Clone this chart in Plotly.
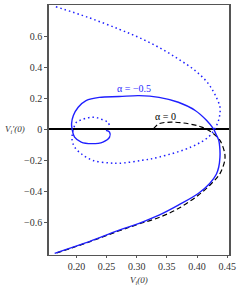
import plotly.graph_objects as go

# alpha = -0.5 (solid blue)
solid_x = [0.164, 0.215, 0.271, 0.304, 0.337, 0.369, 0.402, 0.421, 0.432, 0.436, 0.438, 0.438, 0.436, 0.432, 0.427, 0.416, 0.397, 0.369, 0.337, 0.304, 0.271, 0.238, 0.216, 0.203, 0.195, 0.192, 0.193, 0.197, 0.208, 0.225, 0.244, 0.255, 0.255, 0.249]
solid_y = [-0.802, -0.735, -0.652, -0.608, -0.555, -0.490, -0.415, -0.350, -0.29, -0.243, -0.18, -0.135, -0.071, -0.035, 0.005, 0.058, 0.123, 0.176, 0.208, 0.219, 0.213, 0.208, 0.187, 0.144, 0.090, 0.037, 0.0, -0.050, -0.082, -0.092, -0.082, -0.050, -0.017, -0.006]

# alpha = 0 (dashed black)
dash_x = [0.328, 0.337, 0.358, 0.386, 0.408, 0.424, 0.438, 0.446, 0.446, 0.438, 0.424, 0.402, 0.369, 0.337, 0.304, 0.271, 0.215, 0.164]
dash_y = [0.005, 0.037, 0.047, 0.037, 0.015, -0.017, -0.071, -0.157, -0.20, -0.286, -0.350, -0.426, -0.512, -0.570, -0.612, -0.656, -0.737, -0.804]

# dotted blue
dot_x = [0.166, 0.22, 0.271, 0.304, 0.337, 0.369, 0.397, 0.419, 0.432, 0.438, 0.437, 0.431, 0.420, 0.39, 0.337, 0.309, 0.271, 0.255, 0.227, 0.208, 0.197, 0.193, 0.193, 0.195, 0.2, 0.208, 0.219, 0.227, 0.235, 0.244, 0.252, 0.255]
dot_y = [0.795, 0.725, 0.649, 0.595, 0.531, 0.456, 0.381, 0.295, 0.208, 0.144, 0.079, 0.015, -0.045, -0.114, -0.179, -0.20, -0.219, -0.217, -0.2, -0.157, -0.114, -0.07, -0.039, 0.0, 0.047, 0.062, 0.075, 0.079, 0.075, 0.062, 0.047, 0.026]

x_ticks = [0.20, 0.25, 0.30, 0.35, 0.40, 0.45]
x_tick_text = ["0.20", "0.25", "0.30", "0.35", "0.40", "0.45"]
y_ticks = [-0.6, -0.4, -0.2, 0, 0.2, 0.4, 0.6]
y_tick_text = ["−0.6", "−0.4", "−0.2", "0", "0.2", "0.4", "0.6"]

BLUE = "#1f1fff"
SERIF = "Liberation Serif, Times New Roman, serif"

fig = go.Figure()
fig.add_trace(go.Scatter(x=dot_x, y=dot_y, mode="lines", line=dict(color=BLUE, width=1.5, dash="1.5px,3px", shape="spline"), hoverinfo="skip"))
fig.add_trace(go.Scatter(x=dash_x, y=dash_y, mode="lines", line=dict(color="black", width=1.2, dash="5px,3px", shape="spline"), hoverinfo="skip"))
fig.add_trace(go.Scatter(x=solid_x, y=solid_y, mode="lines", line=dict(color=BLUE, width=1.4, shape="spline"), hoverinfo="skip"))

fig.add_annotation(x=0.296, y=0.265, text="α = −0.5", showarrow=False, font=dict(family=SERIF, size=10, color=BLUE))
fig.add_annotation(x=0.348, y=0.082, text="α = 0", showarrow=False, font=dict(family=SERIF, size=10, color="black"))
fig.add_annotation(x=-0.12, y=0, xref="paper", yref="y", text="<i>V<sub>i</sub>′(0)</i>", showarrow=False,
                   font=dict(family=SERIF, size=9, color="#333"), xanchor="right")
fig.add_annotation(x=0.5, y=-0.07, xref="paper", yref="paper", text="<i>V<sub>i</sub>(0)</i>", showarrow=False,
                   font=dict(family=SERIF, size=9, color="#333"), yanchor="top")

fig.update_layout(
    width=240, height=287,
    margin=dict(l=49, r=9, t=4, b=32),
    paper_bgcolor="white", plot_bgcolor="white",
    showlegend=False,
    font=dict(family=SERIF, size=10, color="#333"),
)
fig.update_xaxes(range=[0.1546, 0.453], tickvals=x_ticks, ticktext=x_tick_text, showgrid=False, zeroline=False,
                 showline=True, linecolor="#555", linewidth=1, mirror=True, ticks="outside", ticklen=2, tickcolor="#555")
fig.update_yaxes(range=[-0.813, 0.806], tickvals=y_ticks, ticktext=y_tick_text, showgrid=False,
                 zeroline=True, zerolinecolor="black", zerolinewidth=2,
                 showline=True, linecolor="#555", linewidth=1.5, mirror=True, ticks="outside", ticklen=3, tickcolor="#555")

fig.write_html("out.html", config={"displayModeBar": False}, post_script="document.body.style.margin='0';")
